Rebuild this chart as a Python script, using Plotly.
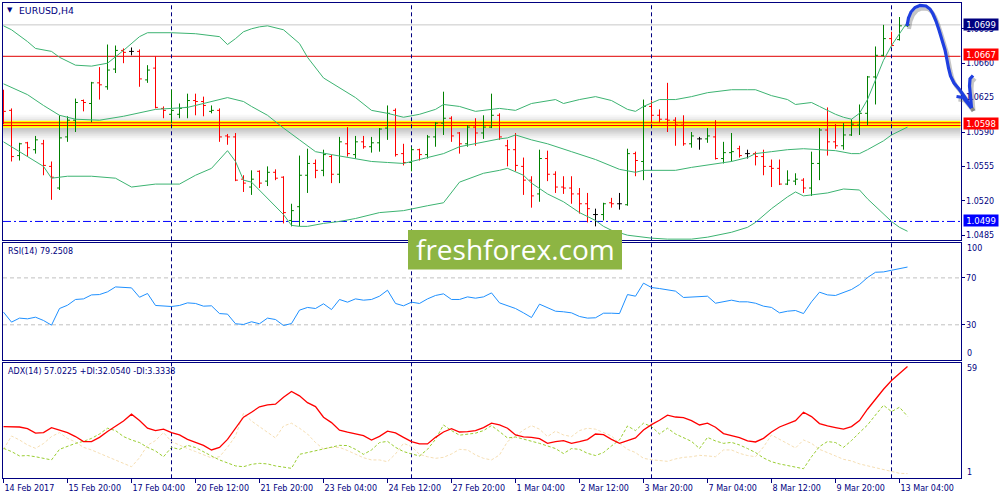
import plotly.graph_objects as go

# ---------------- data ----------------
bar_index = list(range(114))
opens = [1.0613,1.0612,1.0566,1.0579,1.0572,1.0578,1.0555,1.0533,1.0585,1.0602,
         1.0622,1.0619,1.0640,1.0636,1.0654,1.0673,1.0672,1.0672,1.0643,1.0655,
         1.0614,1.0608,1.0608,1.0615,1.0622,1.0621,1.0611,1.0612,1.0586,1.0585,
         1.0542,1.0534,1.0550,1.0540,1.0549,1.0544,1.0500,1.0514,1.0546,1.0558,
         1.0551,1.0565,1.0547,1.0578,1.0567,1.0580,1.0575,1.0579,1.0594,1.0612,
         1.0568,1.0559,1.0572,1.0567,1.0585,1.0599,1.0604,1.0589,1.0578,1.0595,
         1.0589,1.0595,1.0607,1.0576,1.0572,1.0555,1.0541,1.0527,1.0563,1.0547,
         1.0534,1.0533,1.0527,1.0517,1.0506,1.0506,1.0518,1.0517,1.0516,1.0568,
         1.0560,1.0616,1.0607,1.0603,1.0602,1.0597,1.0578,1.0583,1.0583,1.0585,
         1.0563,1.0569,1.0573,1.0568,1.0568,1.0565,1.0555,1.0553,1.0537,1.0540,
         1.0541,1.0533,1.0558,1.0592,1.0580,1.0576,1.0587,1.0597,1.0609,1.0646,
         1.0668,1.0685,1.0684,1.0698]
highs = [1.0633,1.0614,1.0579,1.0580,1.0586,1.0582,1.0560,1.0607,1.0606,1.0624,
         1.0623,1.0641,1.0656,1.0679,1.0678,1.0675,1.0676,1.0674,1.0658,1.0667,
         1.0616,1.0633,1.0619,1.0629,1.0629,1.0626,1.0617,1.0614,1.0588,1.0589,
         1.0546,1.0551,1.0551,1.0555,1.0552,1.0545,1.0517,1.0566,1.0573,1.0562,
         1.0572,1.0567,1.0585,1.0595,1.0586,1.0586,1.0585,1.0594,1.0617,1.0614,
         1.0578,1.0575,1.0573,1.0587,1.0600,1.0631,1.0606,1.0590,1.0597,1.0604,
         1.0607,1.0629,1.0609,1.0582,1.0589,1.0564,1.0545,1.0572,1.0571,1.0550,
         1.0545,1.0545,1.0533,1.0528,1.0512,1.0518,1.0523,1.0528,1.0573,1.0570,
         1.0623,1.0622,1.0613,1.0640,1.0605,1.0607,1.0590,1.0585,1.0594,1.0602,
         1.0580,1.0589,1.0576,1.0572,1.0570,1.0572,1.0562,1.0562,1.0551,1.0548,
         1.0543,1.0570,1.0594,1.0615,1.0598,1.0599,1.0603,1.0618,1.0647,1.0677,
         1.0699,1.0692,1.0707,1.0704]
lows = [1.0598,1.0560,1.0561,1.0565,1.0568,1.0546,1.0521,1.0531,1.0580,1.0590,
        1.0611,1.0600,1.0623,1.0633,1.0650,1.0660,1.0668,1.0636,1.0640,1.0614,
        1.0604,1.0599,1.0604,1.0604,1.0607,1.0606,1.0609,1.0580,1.0577,1.0540,
        1.0529,1.0526,1.0533,1.0535,1.0541,1.0497,1.0494,1.0494,1.0528,1.0543,
        1.0545,1.0538,1.0538,1.0565,1.0563,1.0573,1.0569,1.0570,1.0582,1.0565,
        1.0556,1.0550,1.0561,1.0563,1.0575,1.0587,1.0580,1.0568,1.0575,1.0576,
        1.0583,1.0594,1.0582,1.0555,1.0550,1.0526,1.0513,1.0519,1.0540,1.0528,
        1.0527,1.0517,1.0507,1.0498,1.0494,1.0500,1.0513,1.0511,1.0515,1.0545,
        1.0541,1.0599,1.0600,1.0590,1.0576,1.0576,1.0574,1.0572,1.0579,1.0562,
        1.0558,1.0560,1.0564,1.0563,1.0556,1.0546,1.0534,1.0536,1.0536,1.0536,
        1.0528,1.0525,1.0541,1.0566,1.0573,1.0572,1.0586,1.0587,1.0597,1.0618,
        1.0667,1.0677,1.0683,1.0697]
closes = [1.0611,1.0565,1.0578,1.0574,1.0582,1.0556,1.0544,1.0584,1.0602,1.0620,
          1.0620,1.0640,1.0638,1.0653,1.0673,1.0671,1.0672,1.0644,1.0653,1.0615,
          1.0612,1.0612,1.0614,1.0622,1.0621,1.0617,1.0612,1.0585,1.0585,1.0541,
          1.0538,1.0542,1.0538,1.0549,1.0543,1.0508,1.0510,1.0546,1.0558,1.0551,
          1.0567,1.0547,1.0580,1.0568,1.0580,1.0575,1.0579,1.0593,1.0609,1.0567,
          1.0559,1.0572,1.0567,1.0585,1.0599,1.0604,1.0586,1.0578,1.0595,1.0589,
          1.0595,1.0607,1.0585,1.0572,1.0556,1.0541,1.0525,1.0563,1.0547,1.0534,
          1.0533,1.0527,1.0517,1.0512,1.0506,1.0517,1.0517,1.0517,1.0568,1.0561,
          1.0616,1.0607,1.0603,1.0602,1.0597,1.0578,1.0586,1.0583,1.0586,1.0563,
          1.0569,1.0570,1.0566,1.0568,1.0565,1.0555,1.0553,1.0537,1.0541,1.0542,
          1.0533,1.0558,1.0592,1.0580,1.0576,1.0587,1.0598,1.0609,1.0646,1.0668,
          1.0685,1.0678,1.0698,1.0699]

tick_bars = [0, 8, 16, 24, 32, 40, 48, 56, 64, 72, 80, 88, 96, 104, 112]
tick_labels = ["14 Feb 2017", "15 Feb 20:00", "17 Feb 04:00", "20 Feb 12:00", "21 Feb 20:00",
               "23 Feb 04:00", "24 Feb 12:00", "27 Feb 20:00", "1 Mar 04:00", "2 Mar 12:00",
               "3 Mar 20:00", "7 Mar 04:00", "8 Mar 12:00", "9 Mar 20:00", "13 Mar 04:00"]
separator_bars = [21, 51, 81, 111]

price_ticks = [1.0695, 1.0660, 1.0625, 1.0590, 1.0555, 1.0520, 1.0485]

bb_upper_idx = [0,1,3,4,6,7,9,11,13,15,17,18,21,24,27,28,29,30,31,32,33,35,37,38,40,42,44,46,48,50,
                52,54,55,57,59,61,62,63,64,66,68,69,70,72,74,76,78,79,80,82,84,86,88,91,93,94,96,98,99,100,
                101,102,103,104,105,106,107,108,109,110,111,112,113]
bb_upper = [1.0698,1.0694,1.0682,1.0675,1.0672,1.0666,1.0658,1.0657,1.0660,1.0673,
            1.0687,1.0691,1.0691,1.0690,1.0687,1.0679,1.0685,1.0692,1.0695,1.0697,
            1.0698,1.0694,1.0680,1.0666,1.0645,1.0635,1.0625,1.0612,1.0609,1.0605,
            1.0608,1.0613,1.0618,1.0616,1.0611,1.0613,1.0614,1.0613,1.0612,1.0619,
            1.0622,1.0623,1.0619,1.0623,1.0626,1.0622,1.0613,1.0611,1.0616,1.0623,
            1.0623,1.0626,1.0630,1.0633,1.0633,1.0633,1.0627,1.0623,1.0618,1.0619,
            1.0620,1.0616,1.0612,1.0608,1.0605,1.0603,1.0609,1.0623,1.0643,1.0663,
            1.0678,1.0690,1.0702]
bb_mid_idx = [0,3,5,7,9,12,15,19,23,26,28,30,31,33,35,37,39,41,44,46,
              48,50,52,55,57,60,62,63,64,66,68,71,74,77,79,80,84,86,89,91,
              93,94,96,98,100,102,104,106,107,108,110,111,112,113]
bb_mid = [1.0639,1.0628,1.0617,1.0607,1.0603,1.0602,1.0606,1.0613,1.0615,1.0621,
          1.0625,1.0621,1.0616,1.0607,1.0594,1.0582,1.0570,1.0567,1.0563,1.0560,
          1.0559,1.0558,1.0562,1.0568,1.0575,1.0580,1.0583,1.0584,1.0587,1.0582,
          1.0578,1.0570,1.0562,1.0552,1.0549,1.0551,1.0551,1.0554,1.0558,1.0560,
          1.0564,1.0568,1.0570,1.0572,1.0573,1.0572,1.0571,1.0568,1.0568,1.0572,
          1.0581,1.0587,1.0591,1.0595]
bb_low_idx = [0,3,5,6,8,11,14,16,19,22,24,26,28,29,30,31,33,35,36,37,
              38,40,42,44,47,50,53,55,57,60,62,63,65,66,68,70,72,74,75,76,
              78,81,83,86,88,91,93,94,96,98,99,100,101,103,105,107,108,110,111,112,113]
bb_low = [1.0580,1.0565,1.0555,1.0543,1.0545,1.0545,1.0543,1.0534,1.0537,1.0537,
          1.0546,1.0553,1.0571,1.0560,1.0541,1.0539,1.0523,1.0506,1.0495,1.0494,
          1.0494,1.0497,1.0499,1.0502,1.0508,1.0510,1.0515,1.0518,1.0539,1.0548,
          1.0551,1.0553,1.0546,1.0538,1.0527,1.0519,1.0508,1.0500,1.0494,1.0490,
          1.0485,1.0482,1.0481,1.0481,1.0483,1.0488,1.0493,1.0498,1.0512,1.0524,
          1.0529,1.0525,1.0526,1.0528,1.0532,1.0531,1.0522,1.0506,1.0499,1.0493,1.0489]

rsi = [40.8,32.3,35.7,35.1,36.5,33.7,29.7,43.9,46.7,51.6,
       52.1,55.5,55.8,58.1,62.3,61.8,61.5,53.5,56.7,46.5,
       45.9,45.6,46.5,48.7,48.2,45.9,46.2,39.6,39.1,30.9,
       30.3,32.6,30.9,35.7,34.5,29.4,31.1,42.5,44.8,43.9,
       47.9,43.0,51.6,49.3,52.1,51.0,51.6,54.4,59.5,48.2,
       46.2,49.3,48.2,52.1,55.0,56.4,51.6,51.6,53.8,52.7,
       53.8,57.2,48.7,46.5,43.9,40.2,36.2,47.6,44.5,41.6,
       41.1,40.2,37.1,35.7,36.0,39.9,39.9,39.6,55.8,54.4,
       65.5,61.8,60.9,60.1,58.7,53.3,53.8,53.8,54.4,48.4,
       49.9,51.0,49.6,49.6,48.4,45.9,44.8,40.2,41.6,42.2,
       39.6,49.6,57.8,55.5,55.0,57.8,60.1,64.3,70.3,74.8,
       75.1,76.5,78.2,79.2508]

adx = [26.9,26.9,26.7,25.9,23.6,23.9,26.4,25.1,23.9,21.9,
       19.4,19.4,21.5,24.4,26.9,29.7,33.1,29.9,26.1,24.9,
       25.6,23.9,22.7,20.5,19.0,17.5,15.2,16.5,20.5,26.1,
       31.6,34.1,36.8,37.8,38.1,41.6,44.5,42.3,38.9,36.9,
       31.6,28.9,25.1,24.1,23.4,22.4,20.2,22.0,24.6,23.7,
       21.5,19.4,18.2,18.2,21.5,24.2,25.9,24.2,24.4,24.9,
       26.4,28.6,27.7,26.1,22.7,21.7,21.5,20.9,18.5,19.4,
       19.9,18.5,19.4,20.4,23.2,22.9,20.5,18.5,19.9,21.2,
       25.2,27.9,30.1,32.6,31.7,31.4,29.9,27.7,28.6,26.6,
       23.4,22.4,21.4,19.7,19.2,21.0,24.2,26.7,28.2,29.9,
       34.1,31.9,28.4,27.2,26.4,25.6,26.9,29.9,35.6,40.6,
       45.6,50.0,53.6,57.0225]
plus_di = [16.0,14.4,12.2,12.4,11.8,11.0,10.2,15.5,16.9,18.5,
           19.5,21.0,23.2,26.1,24.9,21.9,20.2,18.9,16.5,14.7,
           11.8,16.5,15.5,17.5,16.4,14.5,12.2,10.2,8.5,7.2,
           6.8,8.0,8.5,8.2,7.2,6.5,6.0,13.0,13.9,14.7,
           15.9,16.5,17.5,17.4,15.5,13.0,15.2,18.9,19.5,16.5,
           14.4,13.2,12.2,15.5,20.5,27.7,24.9,22.6,23.2,23.6,
           24.9,27.4,24.4,21.2,21.7,20.7,19.7,18.5,17.2,15.9,
           13.4,15.9,15.5,13.5,12.4,13.9,17.2,20.2,27.2,24.9,
           28.6,26.9,23.2,26.1,23.2,21.5,19.5,15.9,21.5,19.7,
           18.5,19.0,17.7,15.9,13.9,11.2,9.3,8.2,7.3,6.5,
           5.8,11.8,16.9,19.4,18.9,16.5,19.9,23.9,27.7,32.7,
           37.6,34.4,36.6,32.0540]
minus_di = [15.5,22.2,20.2,17.7,16.0,18.4,21.9,23.9,21.0,19.2,
            16.5,15.2,13.5,11.8,10.2,8.5,6.8,11.3,17.5,19.9,
            23.9,19.4,17.5,15.9,14.4,12.7,11.2,11.8,16.5,22.2,
            33.6,29.7,26.9,24.4,21.2,27.2,28.6,26.1,23.2,18.9,
            15.7,16.5,16.5,14.9,13.0,11.3,10.2,10.2,9.3,13.2,
            18.5,16.9,13.0,11.8,11.0,11.5,13.2,15.5,15.2,12.7,
            11.0,10.2,12.7,19.4,22.2,25.2,27.4,25.6,21.9,24.6,
            22.7,21.9,24.9,26.1,25.6,23.9,22.2,18.5,15.5,13.9,
            11.0,10.3,9.8,9.5,10.7,11.5,11.8,12.5,12.2,11.8,
            15.2,15.2,13.5,12.4,11.8,16.7,22.7,20.5,18.2,16.2,
            20.2,18.5,15.5,14.0,12.2,10.5,9.7,8.2,7.2,6.3,
            5.5,4.5,3.5,3.3338]

last_price = 1.0699
resistance_level = 1.0667
support_level = 1.0598
low_level = 1.0499

# ---------------- style ----------------
NAVY = "#000080"
FONT = "DejaVu Sans"
W, H = 1000, 500
XDOM = [0.003, 0.9605]
MAIN_DOM = [0.52, 0.994]
RSI_DOM = [0.28, 0.5146]
ADX_DOM = [0.0434, 0.275]
BAR_PX = 8.0
X_RANGE = [-0.0625, -0.0625 + (XDOM[1] - XDOM[0]) * W / BAR_PX]


def px(x, y):
    return x / W, 1 - y / H


fig = go.Figure()

# OHLC bars split by direction so that each gets its own colour
def subset(cond):
    o, h, l, c = [], [], [], []
    for i in bar_index:
        if cond(opens[i], closes[i]):
            o.append(opens[i]); h.append(highs[i]); l.append(lows[i]); c.append(closes[i])
        else:
            o.append(None); h.append(None); l.append(None); c.append(None)
    return o, h, l, c

for cond, col in [(lambda o, c: c > o, "#008000"),
                  (lambda o, c: c < o, "#ff0000"),
                  (lambda o, c: c == o, "#000000")]:
    o, h, l, c = subset(cond)
    fig.add_trace(go.Ohlc(x=bar_index, open=o, high=h, low=l, close=c,
                          increasing=dict(line=dict(color=col, width=1)),
                          decreasing=dict(line=dict(color=col, width=1)),
                          tickwidth=0.3, xaxis="x", yaxis="y", hoverinfo="skip",
                          showlegend=False))

BB_COL = "#3cb371"
for xi, yv in [(bb_upper_idx, bb_upper), (bb_mid_idx, bb_mid), (bb_low_idx, bb_low)]:
    fig.add_trace(go.Scatter(x=xi, y=yv, mode="lines", line=dict(color=BB_COL, width=1),
                             xaxis="x", yaxis="y", hoverinfo="skip", showlegend=False))

fig.add_trace(go.Scatter(x=bar_index, y=rsi, mode="lines", line=dict(color="#1e90ff", width=1),
                         xaxis="x2", yaxis="y2", hoverinfo="skip", showlegend=False))

fig.add_trace(go.Scatter(x=bar_index, y=minus_di, mode="lines",
                         line=dict(color="#f5deb3", width=1, dash="3px,2px"),
                         xaxis="x3", yaxis="y3", hoverinfo="skip", showlegend=False))
fig.add_trace(go.Scatter(x=bar_index, y=plus_di, mode="lines",
                         line=dict(color="#9acd32", width=1, dash="3px,2px"),
                         xaxis="x3", yaxis="y3", hoverinfo="skip", showlegend=False))
fig.add_trace(go.Scatter(x=bar_index, y=adx, mode="lines", line=dict(color="#ff0000", width=1.3),
                         xaxis="x3", yaxis="y3", hoverinfo="skip", showlegend=False))

shapes = []
# support band: shadow + yellow + red lines
for k, op in enumerate([0.42, 0.34, 0.26, 0.18, 0.11, 0.05]):
    shapes.append(dict(type="rect", xref="x domain", x0=0, x1=1, yref="y", ysizemode="pixel",
                       yanchor=support_level, y0=-3.5 - 2 * k, y1=-5.5 - 2 * k,
                       fillcolor=f"rgba(110,110,110,{op})", line=dict(width=0), layer="below"))
for k, op in enumerate([0.18, 0.10, 0.05]):
    shapes.append(dict(type="rect", xref="x domain", x0=0, x1=1, yref="y", ysizemode="pixel",
                       yanchor=support_level, y0=3.5 + 2 * k, y1=5.5 + 2 * k,
                       fillcolor=f"rgba(110,110,110,{op})", line=dict(width=0), layer="below"))
shapes.append(dict(type="rect", xref="x domain", x0=0, x1=1, yref="y", ysizemode="pixel",
                   yanchor=support_level, y0=-3.5, y1=3.5, fillcolor="#ffff00",
                   line=dict(width=0), layer="below"))
for off in (-1.4, 1.4):
    shapes.append(dict(type="rect", xref="x domain", x0=0, x1=1, yref="y", ysizemode="pixel",
                       yanchor=support_level, y0=off - 0.5, y1=off + 0.5, fillcolor="#ff0000",
                       line=dict(width=0), layer="below"))

# horizontal level lines
shapes.append(dict(type="line", xref="x domain", x0=0, x1=1, yref="y", y0=last_price, y1=last_price,
                   line=dict(color="#c8c8c8", width=1), layer="below"))
shapes.append(dict(type="line", xref="x domain", x0=0, x1=1, yref="y", y0=resistance_level,
                   y1=resistance_level, line=dict(color="#e00000", width=1), layer="below"))
shapes.append(dict(type="line", xref="x domain", x0=0, x1=1, yref="y", y0=low_level, y1=low_level,
                   line=dict(color="#0000ff", width=1, dash="8px,3px,2px,3px"), layer="below"))

# RSI levels
for lv in (70, 30):
    shapes.append(dict(type="line", xref="x2 domain", x0=0, x1=1, yref="y2", y0=lv, y1=lv,
                       line=dict(color="#c0c0c0", width=1, dash="4px,3px"), layer="below"))

# period separators
for b in separator_bars:
    shapes.append(dict(type="line", xref="x", x0=b, x1=b, yref="paper", y0=ADX_DOM[0], y1=MAIN_DOM[1],
                       line=dict(color=NAVY, width=1, dash="4px,3px"), layer="below"))

# watermark box
x0p, y0p = px(408, 269.5)
x1p, y1p = px(622, 230)
shapes.append(dict(type="rect", xref="paper", yref="paper", x0=x0p, x1=x1p, y0=y0p, y1=y1p,
                   fillcolor="#8db543", line=dict(width=0), layer="above"))

# hand drawn arrow
arrow_main = [(907, 26), (908.5, 18), (911, 12), (915, 7.5), (920, 5.5), (926, 6), (930, 9), (933, 14),
              (936, 21), (939, 30), (942, 40), (945, 50), (947, 60), (948.5, 68), (950.5, 76), (954, 83),
              (959, 89), (964, 96), (968, 102), (971.5, 108)]
arrow_left = [(956.5, 96.5), (963, 97.5), (971.5, 108)]
arrow_right = [(971.5, 108), (970.5, 96), (969.5, 86), (970, 79), (973, 75.5)]


def path_of(pts, dx=0.0, dy=0.0):
    out = []
    for k, (x, y) in enumerate(pts):
        a, b = px(x + dx, y + dy)
        out.append(("M" if k == 0 else "L") + f"{a:.5f},{b:.5f}")
    return " ".join(out)


for pts in (arrow_main, arrow_left, arrow_right):
    shapes.append(dict(type="path", xref="paper", yref="paper", path=path_of(pts, 2, 3),
                       line=dict(color="rgba(90,90,90,0.35)", width=4), layer="above"))
for pts in (arrow_main, arrow_left, arrow_right):
    shapes.append(dict(type="path", xref="paper", yref="paper", path=path_of(pts),
                       line=dict(color="#1f3fe0", width=3.2), layer="above"))

annotations = []


def price_box(val, bg, shift=0):
    return dict(x=0.9625, xref="paper", xanchor="left", y=val, yref="y", yanchor="middle",
                yshift=shift, text=f"{val:.4f}", showarrow=False, bgcolor=bg, width=34, height=11,
                borderpad=0, valign="middle",
                font=dict(family=FONT, size=8.5, color="white"))


annotations += [price_box(last_price, NAVY), price_box(resistance_level, "#ff0000", 1.5),
                price_box(support_level, "#ff0000", 1), price_box(low_level, "#0000ff", 1)]

# subpanel edge labels
for txt, yr, yv, sh in [("100", "y2", 100, -6), ("0", "y2", 0, 7), ("59", "y3", 59, -6), ("1", "y3", 1, 6)]:
    annotations.append(dict(x=0.9648, xref="paper", xanchor="left", y=yv, yref=yr, yanchor="middle",
                            yshift=sh, text=txt, showarrow=False,
                            font=dict(family=FONT, size=8, color=NAVY)))

# titles
tx, ty = px(9.5, 10)
annotations.append(dict(x=tx, y=ty, xref="paper", yref="paper", text="▼", showarrow=False,
                        xanchor="center", yanchor="middle", font=dict(family=FONT, size=7, color=NAVY)))
tx, ty = px(17, 10)
annotations.append(dict(x=tx, y=ty, xref="paper", yref="paper", text="EURUSD,H4", showarrow=False,
                        xanchor="left", yanchor="middle", font=dict(family=FONT, size=9.3, color=NAVY)))
tx, ty = px(6, 251.5)
annotations.append(dict(x=tx, y=ty, xref="paper", yref="paper", text=f"RSI(14) {rsi[-1]:.4f}",
                        showarrow=False, xanchor="left", yanchor="middle",
                        font=dict(family=FONT, size=8, color=NAVY)))
tx, ty = px(6, 371.5)
annotations.append(dict(x=tx, y=ty, xref="paper", yref="paper",
                        text=f"ADX(14) {adx[-1]:.4f} +DI:{plus_di[-1]:.4f} -DI:{minus_di[-1]:.4f}",
                        showarrow=False, xanchor="left", yanchor="middle",
                        font=dict(family=FONT, size=8, color=NAVY)))
# watermark text
tx, ty = px(515, 249)
annotations.append(dict(x=tx, y=ty, xref="paper", yref="paper", text="freshforex.com", showarrow=False,
                        xanchor="center", yanchor="middle",
                        font=dict(family="Open Sans", size=28, color="white")))

common_x = dict(domain=XDOM, range=X_RANGE, showgrid=False, zeroline=False,
                showline=True, mirror=True, linecolor=NAVY, linewidth=1, fixedrange=True)
common_y = dict(showgrid=False, zeroline=False, showline=True, mirror=True, linecolor=NAVY,
                linewidth=1, side="right", ticks="outside", ticklen=3, tickcolor=NAVY,
                tickfont=dict(family=FONT, size=8, color=NAVY), fixedrange=True)

fig.update_layout(
    width=W, height=H, autosize=False,
    margin=dict(l=0, r=0, t=0, b=0),
    paper_bgcolor="white", plot_bgcolor="white",
    showlegend=False,
    xaxis=dict(**common_x, anchor="y", showticklabels=False, ticks="",
               rangeslider=dict(visible=False)),
    yaxis=dict(**common_y, anchor="x", domain=MAIN_DOM, range=[1.048012, 1.072124],
               tickvals=price_ticks, ticktext=[f"{v:.4f}" for v in price_ticks]),
    xaxis2=dict(**common_x, anchor="y2", matches="x", showticklabels=False, ticks=""),
    yaxis2=dict(**common_y, anchor="x2", domain=RSI_DOM, range=[0, 100],
                tickvals=[70, 30], ticktext=["70", "30"]),
    xaxis3=dict(**common_x, anchor="y3", matches="x", tickvals=tick_bars, ticktext=tick_labels,
                ticks="outside", ticklen=4, tickcolor=NAVY, ticklabelposition="outside right",
                ticklabelstandoff=2,
                tickfont=dict(family=FONT, size=8, color=NAVY)),
    yaxis3=dict(**common_y, anchor="x3", domain=ADX_DOM, range=[1, 59], tickvals=[]),
    shapes=shapes,
    annotations=annotations,
)

fig.write_html("out.html", config={"displayModeBar": False},
               post_script="document.body.style.margin='0';document.body.style.padding='0';"
                           "document.body.style.overflow='hidden';")
